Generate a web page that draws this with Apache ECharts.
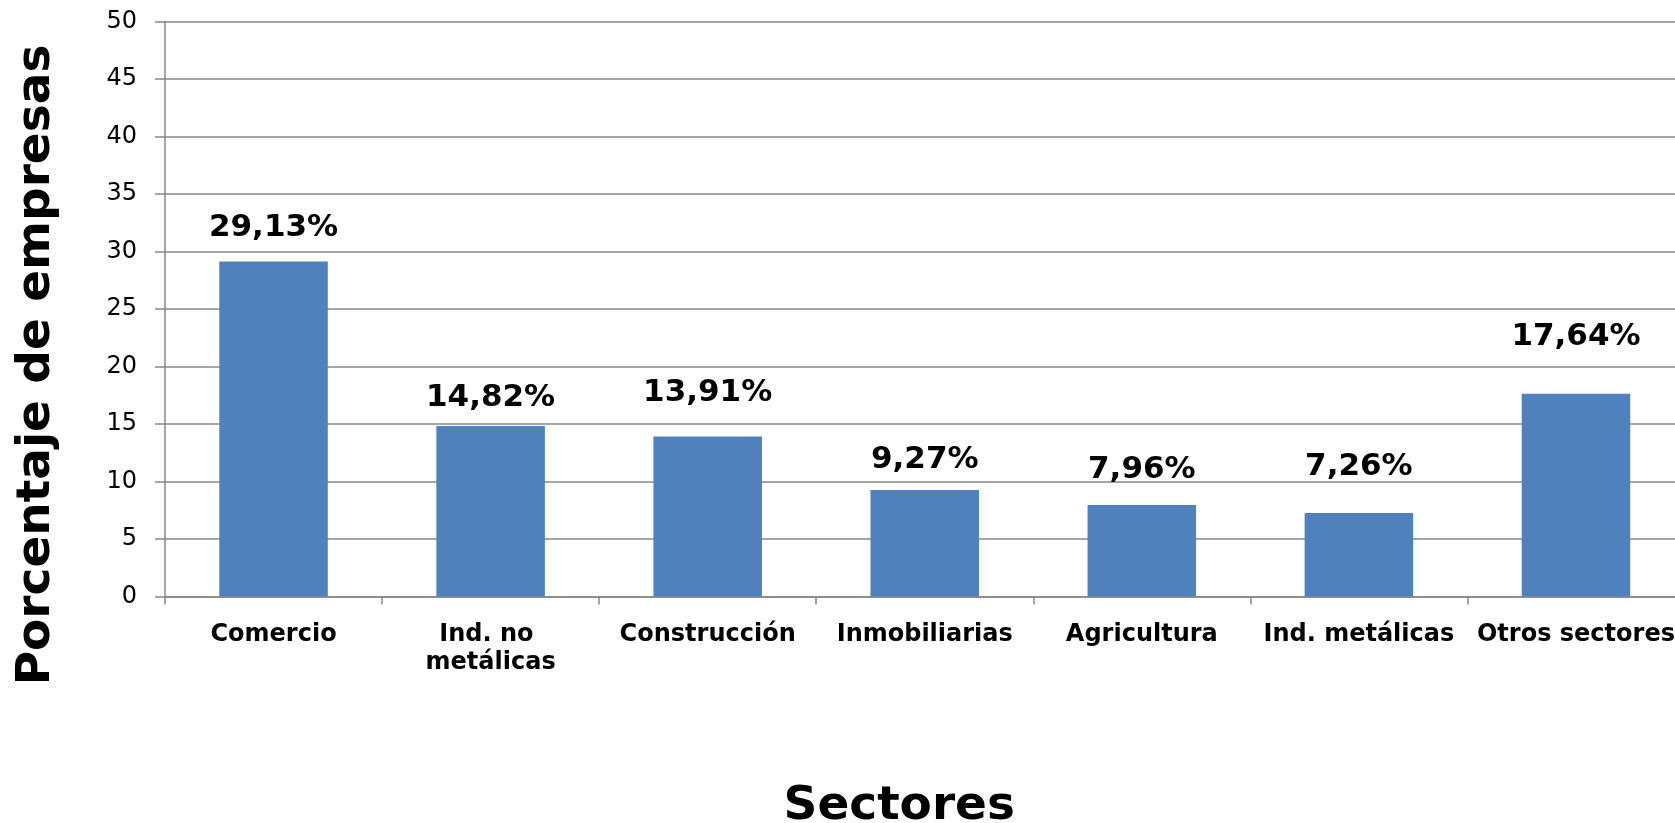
<!DOCTYPE html>
<html>
<head>
<meta charset="utf-8">
<script src="https://cdn.jsdelivr.net/npm/echarts@6/dist/echarts.min.js"></script>
<style>
html,body{margin:0;padding:0;background:#fff;}
#chart{width:1675px;height:823px;}
</style>
</head>
<body>
<div id="chart"></div>
<script>
var categories = ['Comercio', 'Ind. no metálicas', 'Construcción', 'Inmobiliarias', 'Agricultura', 'Ind. metálicas', 'Otros sectores'];
var values = [29.13, 14.82, 13.91, 9.27, 7.96, 7.26, 17.64];
var yTicks = [0, 5, 10, 15, 20, 25, 30, 35, 40, 45, 50];
var labelGaps = [18, 13, 28, 14, 20, 31, 41];

var chart = echarts.init(document.getElementById('chart'));
var gridColor = '#878787';
var option = {
  backgroundColor: '#ffffff',
  animation: false,
  grid: {
    left: 165, top: 21.5, right: -9.5, bottom: 226.5,
    containLabel: false,
    outerBoundsMode: 'none'
  },
  xAxis: {
    type: 'category',
    data: categories,
    boundaryGap: true,
    name: 'Sectores',
    nameLocation: 'middle',
    nameGap: 187,
    nameTextStyle: {
      fontFamily: 'DejaVu Sans', fontWeight: 'bold', fontSize: 47, color: '#000',
      padding: [0, 51, 0, 0]
    },
    axisLine: {lineStyle: {color: gridColor, width: 1.5}},
    axisTick: {show: true, length: 8, alignWithLabel: false, lineStyle: {color: gridColor, width: 1.5}},
    axisLabel: {
      interval: 0, margin: 24,
      fontFamily: 'DejaVu Sans', fontWeight: 'bold', fontSize: 24, color: '#000',
      lineHeight: 28, width: 215, overflow: 'break'
    }
  },
  yAxis: {
    type: 'value',
    min: yTicks[0], max: yTicks[yTicks.length - 1], interval: yTicks[1] - yTicks[0],
    name: 'Porcentaje de empresas',
    nameLocation: 'middle',
    nameRotate: 90,
    nameGap: 105,
    nameTextStyle: {
      fontFamily: 'DejaVu Sans', fontWeight: 'bold', fontSize: 47, color: '#000',
      padding: [0, 112, 0, 0]
    },
    axisLine: {show: true, lineStyle: {color: gridColor, width: 1.5}},
    axisTick: {show: true, length: 10, lineStyle: {color: gridColor, width: 1.5}},
    splitLine: {show: true, lineStyle: {color: gridColor, width: 1.5}},
    axisLabel: {
      margin: 28,
      fontFamily: 'DejaVu Sans', fontSize: 24, color: '#000'
    }
  },
  series: [{
    type: 'bar',
    barCategoryGap: '50%',
    itemStyle: {color: '#4F81BD'},
    data: values.map(function (v, i) {
      return {value: v, label: {distance: labelGaps[i]}};
    }),
    label: {
      show: true,
      position: 'top',
      fontFamily: 'DejaVu Sans', fontWeight: 'bold', fontSize: 31, color: '#000',
      formatter: function (p) { return p.value.toFixed(2).replace('.', ',') + '%'; }
    }
  }]
};
chart.setOption(option);
</script>
</body>
</html>
